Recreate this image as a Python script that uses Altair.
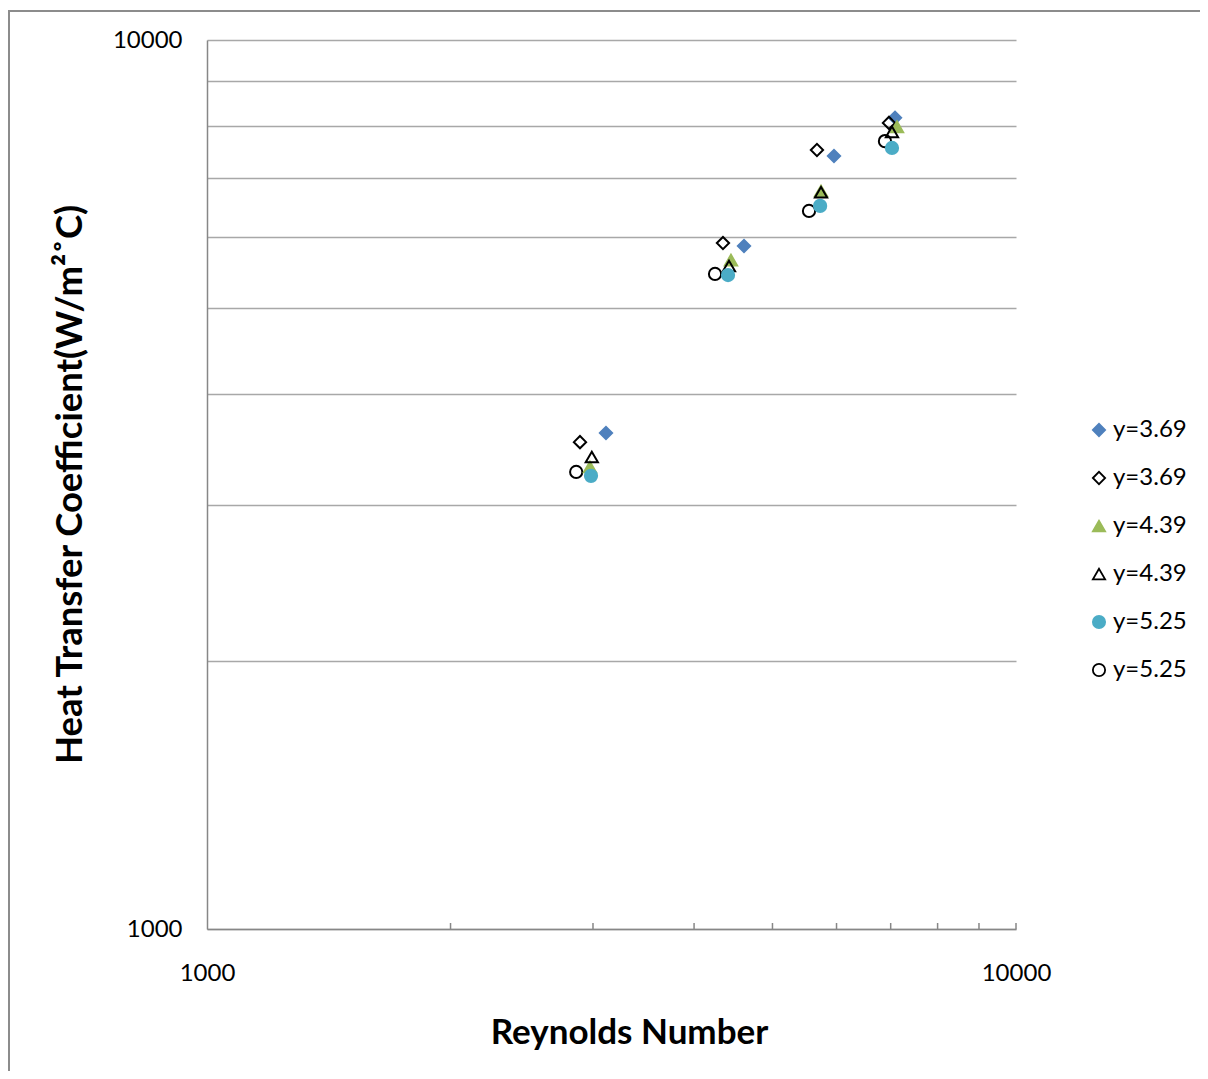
import altair as alt
import pandas as pd

# series keys (unique) and the legend labels shown
keys = ["y=3.69a", "y=3.69b", "y=4.39a", "y=4.39b", "y=5.25a", "y=5.25b"]

s1_x = [3113, 4611, 5957, 7087]
s1_y = [3614, 5865, 7405, 8175]
s2_x = [2891, 4343, 5675, 6966]
s2_y = [3529, 5910, 7521, 8068]
s3_x = [2974, 4443, 5741, 7127]
s3_y = [3309, 5655, 6763, 7985]
s4_x = [2990, 4418, 5741, 7026]
s4_y = [3396, 5569, 6740, 7883]
s5_x = [2983, 4406, 5726, 7026]
s5_y = [3234, 5440, 6507, 7561]
s6_x = [2860, 4246, 5548, 6887]
s6_y = [3267, 5455, 6423, 7695]

xs = [s1_x, s2_x, s3_x, s4_x, s5_x, s6_x]
ys = [s1_y, s2_y, s3_y, s4_y, s5_y, s6_y]

shapes = ["diamond", "diamond", "triangle-up", "triangle-up", "circle", "circle"]
fills = ["#4F81BD", "transparent", "#9BBB59", "transparent", "#4BACC6", "transparent"]
strokes = ["#4F81BD", "black", "#9BBB59", "black", "#4BACC6", "black"]

x_minor = [2000, 3000, 4000, 5000, 6000, 7000, 8000, 9000, 10000]
y_ticks = [1000, 2000, 3000, 4000, 5000, 6000, 7000, 8000, 9000, 10000]

draw_order = [5, 0, 1, 2, 3, 4]
rows = []
for k, i in enumerate(draw_order):
    for x, y in zip(xs[i], ys[i]):
        rows.append({"series": keys[i], "Re": x, "h": y})
df = pd.DataFrame(rows)

FONT = "Lato"
AXIS_GRAY = "#878787"
GRID_GRAY = "#a8a8a8"

xscale = alt.Scale(type="log", domain=[1000, 10000], nice=False)
yscale = alt.Scale(type="log", domain=[1000, 10000], nice=False)

legend = alt.Legend(
    title=None,
    orient="none",
    legendX=880,
    legendY=378,
    labelExpr="substring(datum.label, 0, 6)",
    labelFont=FONT,
    labelFontSize=24,
    labelColor="black",
    symbolSize=150,
    symbolStrokeWidth=1.8,
    rowPadding=24,
    labelOffset=2,
)

xaxis = alt.Axis(values=[1000, 10000], format="d", ticks=False, grid=False,
                 domainColor=AXIS_GRAY, domainWidth=1.5,
                 labelFont=FONT, labelFontSize=24, labelColor="black",
                 labelPadding=32, labelFlush=False,
                 title="Reynolds Number", titleFont=FONT, titleFontSize=35,
                 titleFontWeight="bold", titleColor="black",
                 titleX=422, titleY=103, titleBaseline="middle")

points = alt.Chart(df).mark_point(filled=False, size=150, strokeWidth=2, opacity=1).encode(
    x=alt.X("Re:Q", scale=xscale, axis=xaxis),
    y=alt.Y("h:Q", scale=yscale,
            axis=alt.Axis(values=y_ticks, format="d", ticks=False, grid=True,
                          gridColor=GRID_GRAY, gridWidth=1.3,
                          domainColor=AXIS_GRAY, domainWidth=1.5,
                          labelExpr="(datum.value == 1000 || datum.value == 10000) ? datum.label : ''",
                          labelFont=FONT, labelFontSize=24, labelColor="black",
                          labelPadding=25, labelFlush=False,
                          title="Heat Transfer Coefficient(W/m\u00b2\u02daC)", titleFont=FONT,
                          titleFontSize=36.5, titleFontWeight="bold", titleColor="black",
                          titleAngle=-90, titleX=-137, titleY=444, titleBaseline="middle",
                          titleAlign="center")),
    shape=alt.Shape("series:N", scale=alt.Scale(domain=keys, range=shapes), legend=legend),
    fill=alt.Fill("series:N", scale=alt.Scale(domain=keys, range=fills), legend=legend),
    stroke=alt.Stroke("series:N", scale=alt.Scale(domain=keys, range=strokes), legend=legend),
)

minor = alt.Chart(pd.DataFrame({"Re": x_minor})).mark_rule(color=AXIS_GRAY, strokeWidth=1.5).encode(
    x=alt.X("Re:Q", scale=xscale, axis=xaxis),
    y=alt.value(883),
    y2=alt.value(889),
)

frame = alt.Chart(pd.DataFrame({"a": [0]})).mark_rect(
    filled=False, stroke="#8c8c8c", strokeWidth=2
).encode(
    x=alt.value(-198), x2=alt.value(1400), y=alt.value(-29), y2=alt.value(1400)
)

chart = alt.layer(frame, points, minor).properties(
    width=809, height=889,
    padding={"left": 199, "top": 32, "right": 184, "bottom": 142},
    autosize=alt.AutoSizeParams(type="none"),
    background="white",
).configure_view(strokeWidth=0, stroke="transparent")

chart.save("out.html", embed_options={"renderer": "svg", "actions": False})
